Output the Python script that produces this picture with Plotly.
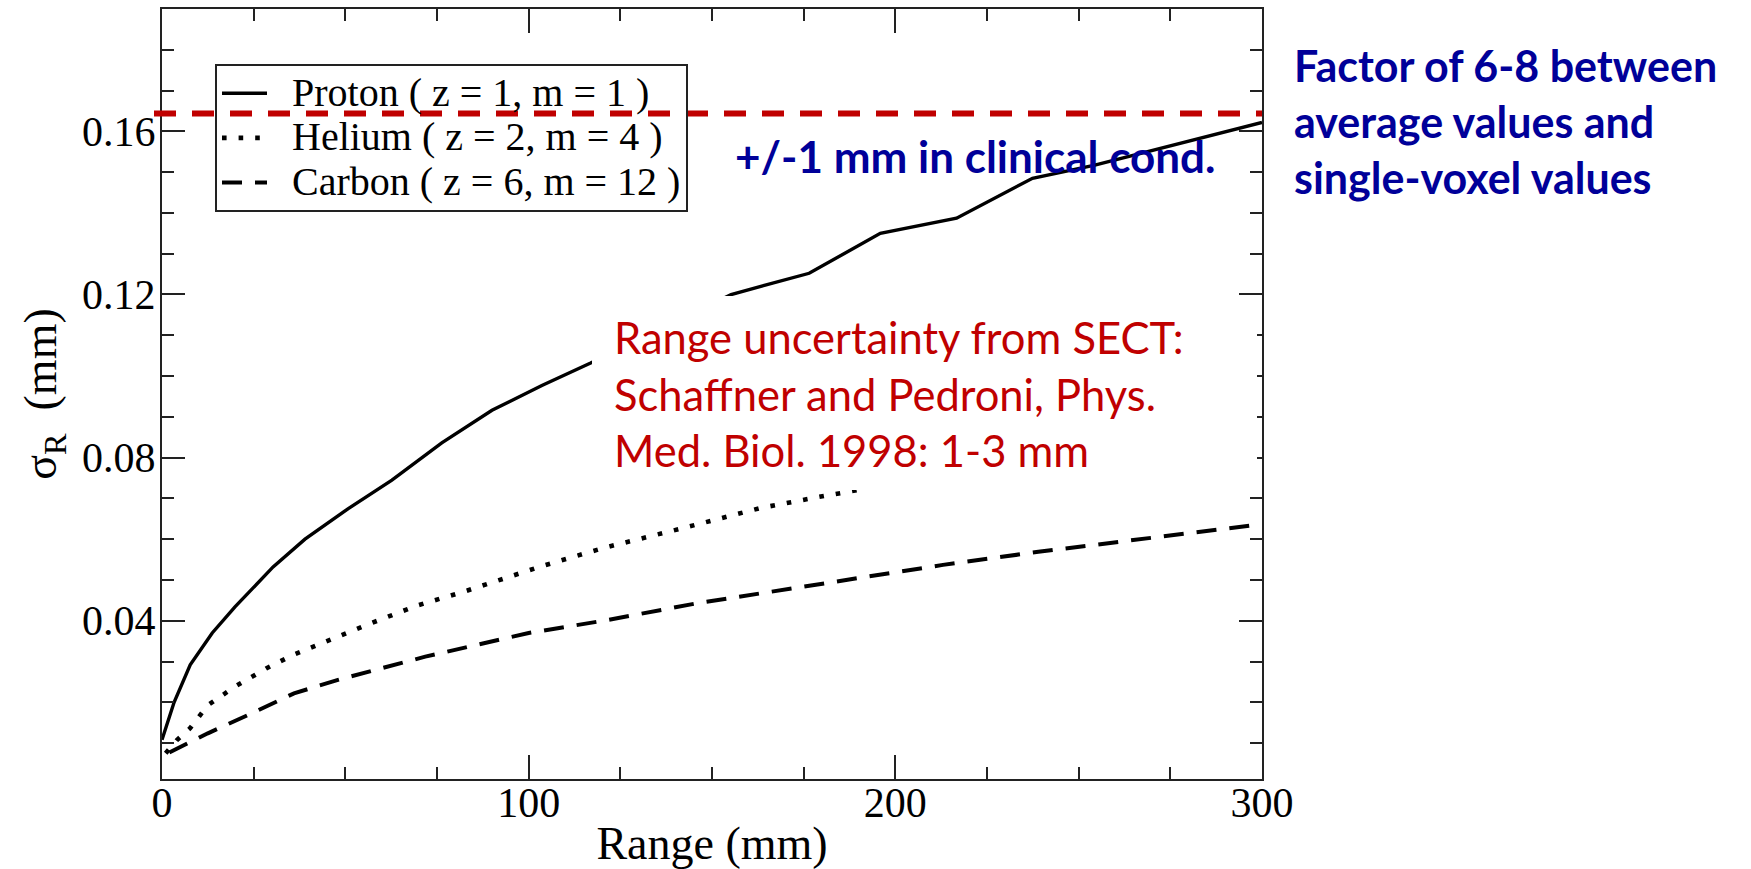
import plotly.graph_objects as go

# ---- data ----
proton_x = [0, 3.3, 7.7, 13.7, 19.9, 30.3, 39, 50.8, 62.7, 76.3, 90, 103.6, 116.9,
            155.2, 176.5, 195.9, 216.7, 237.4, 254.4, 277, 300]
proton_y = [0.0108, 0.020, 0.0292, 0.037, 0.0434, 0.0532, 0.060, 0.0675, 0.0745, 0.0836,
            0.0916, 0.0977, 0.1032, 0.120, 0.1252, 0.135, 0.1387, 0.1485, 0.1517, 0.157, 0.1622]

helium_x = [1, 4, 7.6, 12.5, 19.8, 28.4, 35.7, 44.2, 56.7, 69.8, 82.2, 103.6, 121, 142, 163, 178.7, 192]
helium_y = [0.0075, 0.0107, 0.0136, 0.0193, 0.0238, 0.0283, 0.0316, 0.0348, 0.0393, 0.0438,
            0.0471, 0.0534, 0.058, 0.0627, 0.0676, 0.0703, 0.0724]

carbon_x = [2, 12.5, 23.5, 36, 48, 71.8, 100, 121, 146, 186.5, 213, 239, 258, 300]
carbon_y = [0.0077, 0.0124, 0.0169, 0.0222, 0.0255, 0.0312, 0.037, 0.0401, 0.0443, 0.0501,
            0.0537, 0.0569, 0.059, 0.0637]

series_names = ["Proton ( z = 1, m = 1 )", "Helium ( z = 2, m = 4 )", "Carbon ( z = 6, m = 12 )"]

y_ticks = [0.04, 0.08, 0.12, 0.16]
x_ticks = [0, 100, 200, 300]
clinical_level = 0.1644

W, H = 1751, 869
L, R, T, B = 162, 489, 9, 90
PW, PH = W - L - R, H - T - B

def px(xp):
    return (xp - L) / PW

def py(yp):
    return (H - B - yp) / PH

SERIF = "Liberation Serif, Times New Roman, serif"
SANS = "Lato, Carlito, Calibri, sans-serif"
BLUE = "#000099"
RED = "#C00000"

def legend_label(name):
    return '<span style="font-size:40px">&nbsp;&nbsp;' + name + '</span>'

fig = go.Figure()
fig.add_trace(go.Scatter(x=proton_x, y=proton_y, mode="lines", name=legend_label(series_names[0]),
                         line=dict(color="black", width=3.4)))
fig.add_trace(go.Scatter(x=helium_x, y=helium_y, mode="lines", name=legend_label(series_names[1]),
                         line=dict(color="black", width=4.6, dash="4.6px,12px")))
fig.add_trace(go.Scatter(x=carbon_x, y=carbon_y, mode="lines", name=legend_label(series_names[2]),
                         line=dict(color="black", width=4, dash="20px,13px")))

axis_common = dict(
    showline=True, linecolor="#222", linewidth=2, mirror="ticks",
    ticks="inside", tickwidth=2, tickcolor="#222",
    showgrid=False, zeroline=False,
    tickfont=dict(family=SERIF, size=42, color="black"),
)

fig.update_xaxes(
    range=[0, 300], tickvals=x_ticks, ticklen=24, ticklabelstandoff=-14,
    minor=dict(ticks="inside", ticklen=12, tickwidth=2, tickcolor="#222", dtick=25, tick0=0),
    title=dict(text="Range (mm)", font=dict(family=SERIF, size=46, color="black"), standoff=18),
    **axis_common,
)
fig.update_yaxes(
    range=[0.0012, 0.19], tickvals=y_ticks, tickformat=".2f", ticklen=23, ticklabelstandoff=-4,
    minor=dict(ticks="inside", ticklen=12, tickwidth=2, tickcolor="#222", dtick=0.01, tick0=0),
    title=dict(text="σ<sub>R</sub>  (mm)", font=dict(family=SERIF, size=46, color="black"), standoff=11),
    **axis_common,
)

# white text box of the slide (covers the curves)
fig.add_shape(type="rect", xref="paper", yref="paper",
              x0=px(592), x1=px(1257), y0=py(490), y1=py(296),
              fillcolor="white", line=dict(width=0), layer="above")
# red dashed reference line
fig.add_shape(type="line", xref="paper", yref="y",
              x0=px(154), x1=1.0, y0=clinical_level, y1=clinical_level,
              line=dict(color=RED, width=6, dash="22px,16px"), layer="above")

fig.add_annotation(xref="paper", yref="paper", x=px(733), y=py(156),
                   xanchor="left", yanchor="middle", showarrow=False,
                   text="<b>+/-1 mm in clinical cond.</b>",
                   font=dict(family=SANS, size=44, color=BLUE))
fig.add_annotation(xref="paper", yref="paper", x=px(1292), y=py(121),
                   xanchor="left", yanchor="middle", showarrow=False, align="left",
                   text="<b>Factor of 6-8 between<br>average values and<br>single-voxel values</b>",
                   font=dict(family=SANS, size=43, color=BLUE))
fig.add_annotation(xref="paper", yref="paper", x=px(612), y=py(393),
                   xanchor="left", yanchor="middle", showarrow=False, align="left",
                   text="Range uncertainty from SECT:<br>Schaffner and Pedroni, Phys.<br>Med. Biol. 1998: 1-3 mm",
                   font=dict(family=SANS, size=43.5, color=RED))

fig.update_layout(
    width=W, height=H,
    margin=dict(l=L, r=R, t=T, b=B, autoexpand=False),
    paper_bgcolor="white", plot_bgcolor="white",
    showlegend=True,
    legend=dict(x=px(215), y=py(64), xanchor="left", yanchor="top",
                bgcolor="rgba(0,0,0,0)", bordercolor="#222", borderwidth=2,
                font=dict(family=SERIF, size=32, color="black"),
                itemwidth=45, tracegroupgap=0),
)

fig.write_html("out.html")
